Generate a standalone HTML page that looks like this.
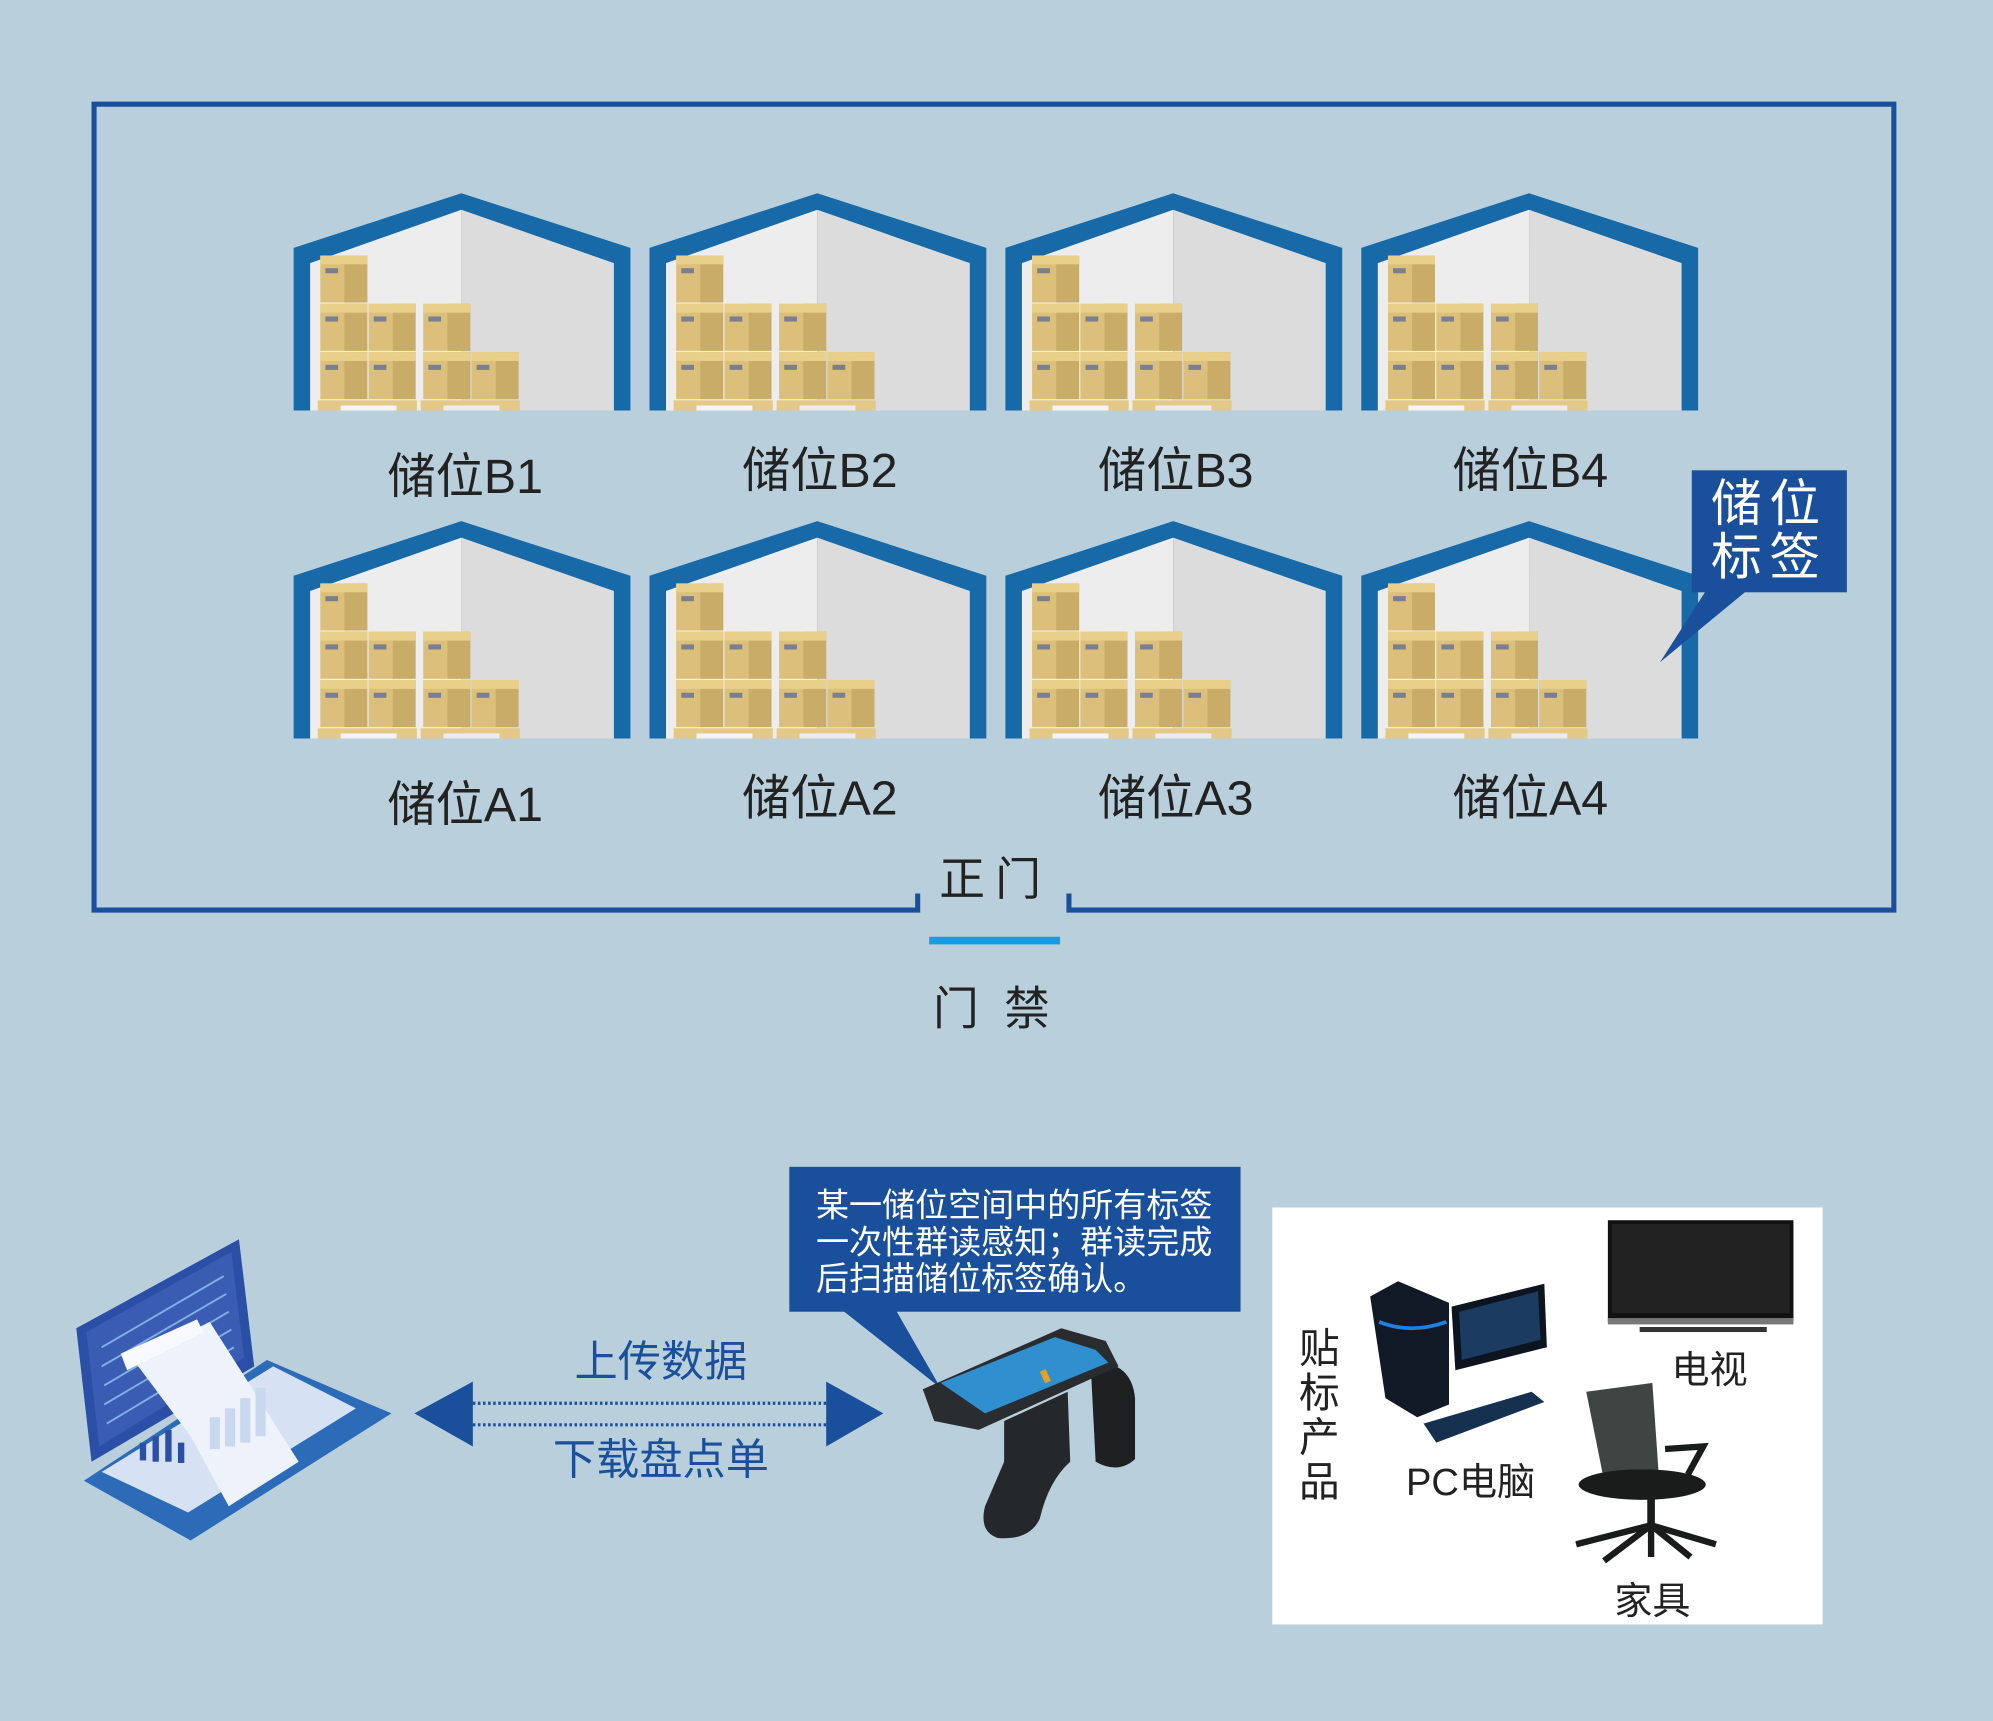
<!DOCTYPE html>
<html><head><meta charset="utf-8"><style>
html,body{margin:0;padding:0;background:#b9d0dc;}
svg{display:block}
text{font-family:"Liberation Sans","Noto Sans CJK SC",sans-serif;}
</style></head><body>
<svg width="1993" height="1721" viewBox="0 0 1568 1354" xmlns="http://www.w3.org/2000/svg">
<defs>
<g id="box">
<rect x="0" y="0" width="37" height="37" fill="#dcbf7a"/>
<rect x="19" y="0" width="18" height="37" fill="#c9ac68"/>
<rect x="0" y="0" width="37" height="7" fill="#e8cf8a"/>
<rect x="4" y="10" width="10" height="4" fill="#7a7f90"/>
</g>
<g id="wh">
<polygon points="0,43 132,0 265,43 265,171 0,171" fill="#1769a8"/>
<polygon points="13,55 132,13 132,171 13,171" fill="#ededed"/>
<polygon points="132,13 252,55 252,171 132,171" fill="#dcdcdc"/>
<use href="#box" x="21" y="49"/>
<use href="#box" x="21" y="87"/><use href="#box" x="59" y="87"/><use href="#box" x="102" y="87"/>
<use href="#box" x="21" y="125"/><use href="#box" x="59" y="125"/><use href="#box" x="102" y="125"/><use href="#box" x="140" y="125"/>
<rect x="19" y="163" width="78" height="8" fill="#e3c985"/>
<rect x="100" y="163" width="78" height="8" fill="#e3c985"/>
<rect x="37" y="167" width="44" height="4" fill="#f4f4f4"/>
<rect x="118" y="167" width="44" height="4" fill="#ececec"/>
</g>
</defs>
<rect width="1568" height="1354" fill="#b9d0dc"/>
<path d="M722,703 L722,716 L74,716 L74,82 L1490,82 L1490,716 L841,716 L841,703" fill="none" stroke="#1a4f9c" stroke-width="4"/>
<text x="783" y="704" font-size="36" text-anchor="middle" fill="#222" letter-spacing="8">正门</text>
<rect x="731" y="737" width="103" height="6" fill="#1a9be0"/>
<text x="790" y="806" font-size="36" text-anchor="middle" fill="#222" letter-spacing="20">门禁</text>
<use href="#wh" x="231" y="152"/><use href="#wh" x="511" y="152"/><use href="#wh" x="791" y="152"/><use href="#wh" x="1071" y="152"/>
<use href="#wh" x="231" y="410"/><use href="#wh" x="511" y="410"/><use href="#wh" x="791" y="410"/><use href="#wh" x="1071" y="410"/>
<g font-size="38" fill="#222" text-anchor="middle">
<text x="366" y="388">储位B1</text><text x="645" y="383">储位B2</text><text x="925" y="383">储位B3</text><text x="1204" y="383">储位B4</text>
<text x="366" y="646">储位A1</text><text x="645" y="641">储位A2</text><text x="925" y="641">储位A3</text><text x="1204" y="641">储位A4</text>
</g>
<polygon points="1342,465 1374,465 1306,521" fill="#1a4f9c"/>
<rect x="1331" y="370" width="122" height="96" fill="#1a4f9c"/>
<text x="1392" y="410" font-size="40" fill="#fff" text-anchor="middle" letter-spacing="6">储位</text>
<text x="1392" y="452" font-size="40" fill="#fff" text-anchor="middle" letter-spacing="6">标签</text>
<polygon points="663,1031 705,1031 740,1092" fill="#1a4f9c"/>
<rect x="621" y="918" width="355" height="114" fill="#1a4f9c"/>
<g font-size="26" fill="#fff">
<text x="642" y="957">某一储位空间中的所有标签</text>
<text x="642" y="986">一次性群读感知；群读完成</text>
<text x="642" y="1015">后扫描储位标签确认。</text>
</g>
<polygon points="326,1112 372,1087 372,1138" fill="#1a4f9c"/>
<polygon points="695,1112 650,1087 650,1138" fill="#1a4f9c"/>
<line x1="372" y1="1104" x2="650" y2="1104" stroke="#1a4f9c" stroke-width="2.5" stroke-dasharray="2,2"/>
<line x1="372" y1="1121" x2="650" y2="1121" stroke="#1a4f9c" stroke-width="2.5" stroke-dasharray="2,2"/>
<text x="520" y="1083" font-size="34" fill="#1a4f9c" text-anchor="middle">上传数据</text>
<text x="520" y="1160" font-size="34" fill="#1a4f9c" text-anchor="middle">下载盘点单</text>
<polygon points="66,1165 210,1070 308,1112 150,1212" fill="#2c6bb8"/>
<polygon points="80,1158 215,1075 280,1108 148,1190" fill="#d6e2f4"/>
<polygon points="60,1045 188,975 200,1075 72,1150" fill="#2b4fa6"/>
<polygon points="68,1048 182,985 192,1068 78,1138" fill="#3a5db3"/>
<g stroke="#7fb0e8" stroke-width="1.5">
<line x1="80" y1="1060" x2="176" y2="1004"/><line x1="80" y1="1075" x2="178" y2="1018"/><line x1="82" y1="1090" x2="180" y2="1032"/><line x1="82" y1="1105" x2="182" y2="1046"/><line x1="84" y1="1120" x2="184" y2="1060"/>
</g>
<polygon points="105,1070 165,1040 235,1150 180,1185 150,1130" fill="#eef3fb"/>
<polygon points="95,1065 155,1038 160,1048 100,1078" fill="#f8faff"/>
<g fill="#2b4fa6"><rect x="110" y="1135" width="5" height="14"/><rect x="120" y="1130" width="5" height="20"/><rect x="130" y="1125" width="5" height="25"/><rect x="140" y="1135" width="5" height="16"/></g>
<g fill="#c9d8ef"><rect x="165" y="1115" width="8" height="25"/><rect x="177" y="1108" width="8" height="30"/><rect x="189" y="1100" width="8" height="35"/><rect x="201" y="1092" width="8" height="38"/></g>
<!-- scanner -->
<path d="M858,1072 Q890,1070 893,1100 L893,1148 Q880,1160 862,1150 Z" fill="#1e2022"/>
<path d="M790,1118 L840,1095 L842,1150 Q825,1165 818,1195 Q810,1212 785,1210 Q770,1205 775,1185 L790,1150 Z" fill="#25282b"/>
<polygon points="726,1093 835,1045 870,1055 880,1075 770,1125 735,1118" fill="#2a2d30"/>
<polygon points="740,1088 830,1052 862,1062 872,1072 775,1112" fill="#2f8fcf"/>
<rect x="820" y="1078" width="5" height="10" fill="#e8a020" transform="rotate(-25 822 1083)"/>
<!-- products -->
<rect x="1001" y="950" width="433" height="328" fill="#fff"/>
<g font-size="32" fill="#222" text-anchor="middle">
<text x="1038" y="1072">贴</text><text x="1038" y="1107">标</text><text x="1038" y="1142">产</text><text x="1038" y="1177">品</text>
</g>
<text x="1157" y="1176" font-size="30" fill="#222" text-anchor="middle">PC电脑</text>
<text x="1345" y="1088" font-size="30" fill="#222" text-anchor="middle">电视</text>
<text x="1300" y="1270" font-size="30" fill="#222" text-anchor="middle">家具</text>
<rect x="1265" y="960" width="146" height="80" fill="#111"/>
<rect x="1268" y="963" width="140" height="70" fill="#222"/>
<rect x="1265" y="1037" width="146" height="5" fill="#777"/>
<rect x="1290" y="1044" width="100" height="4" fill="#333"/>
<polygon points="1078,1020 1100,1008 1140,1025 1140,1105 1115,1115 1090,1100" fill="#111826"/>
<path d="M1085,1040 Q1110,1050 1138,1040" stroke="#1e7fe0" stroke-width="3" fill="none"/>
<polygon points="1142,1028 1215,1010 1217,1060 1145,1078" fill="#0c1420"/>
<polygon points="1148,1032 1210,1016 1212,1054 1150,1070" fill="#1b3b60"/>
<polygon points="1120,1120 1205,1095 1215,1103 1130,1135" fill="#163050"/>
<polygon points="1248,1095 1300,1088 1305,1160 1262,1165" fill="#3f4542"/>
<ellipse cx="1292" cy="1168" rx="50" ry="12" fill="#1a1c1c"/>
<rect x="1296" y="1175" width="6" height="30" fill="#1a1c1c"/>
<path d="M1240,1215 L1299,1200 L1350,1215 M1299,1200 L1299,1225 M1299,1200 L1262,1228 M1299,1200 L1330,1225" stroke="#1a1c1c" stroke-width="5" fill="none"/>
<path d="M1310,1140 L1340,1138 L1328,1160" stroke="#1a1c1c" stroke-width="5" fill="none"/>
</svg>
</body></html>
